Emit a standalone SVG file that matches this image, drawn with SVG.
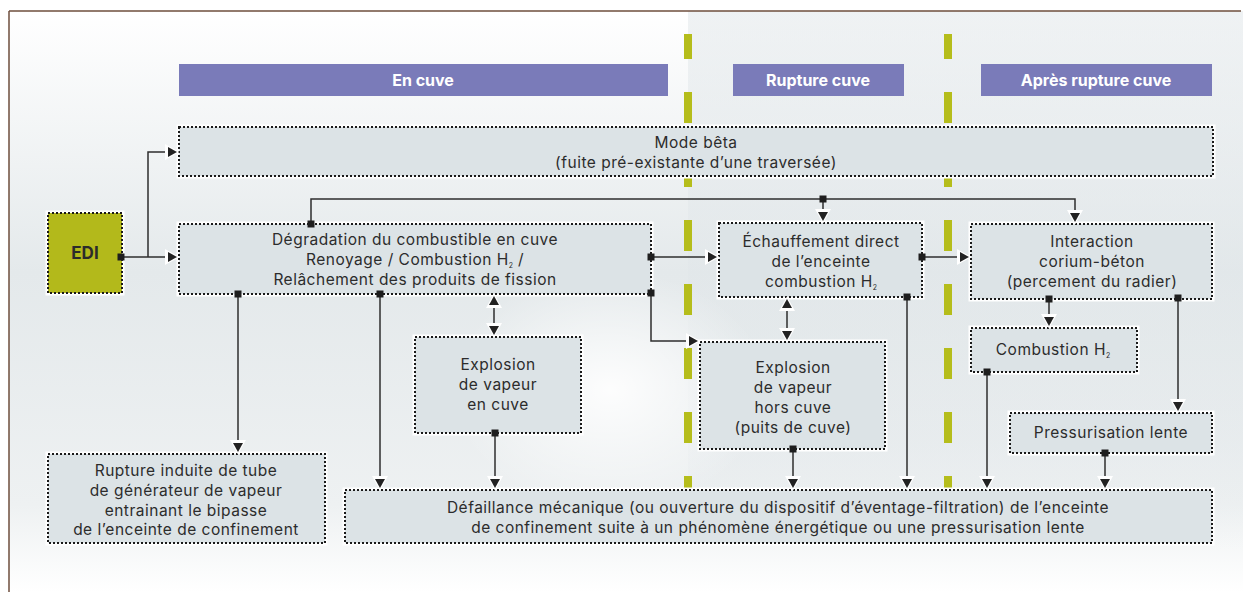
<svg xmlns="http://www.w3.org/2000/svg" width="1243" height="592" viewBox="0 0 1243 592">
<defs>
<linearGradient id="bg" x1="0" y1="0" x2="0" y2="1">
<stop offset="0" stop-color="#ffffff"/>
<stop offset="0.45" stop-color="#e4e9eb"/>
<stop offset="0.85" stop-color="#eef1f2"/>
<stop offset="1" stop-color="#ffffff"/>
</linearGradient>
<linearGradient id="band" x1="0" y1="0" x2="0" y2="1">
<stop offset="0" stop-color="#dfe5e8" stop-opacity="0.5"/>
<stop offset="0.8" stop-color="#dfe5e8" stop-opacity="0.3"/>
<stop offset="1" stop-color="#dfe5e8" stop-opacity="0"/>
</linearGradient>
<radialGradient id="hl" cx="0.5" cy="0.5" r="0.5">
<stop offset="0" stop-color="#ffffff" stop-opacity="0.9"/>
<stop offset="1" stop-color="#ffffff" stop-opacity="0"/>
</radialGradient>
<marker id="arr" markerUnits="userSpaceOnUse" viewBox="-13 -9 16 18" refX="0" refY="0" markerWidth="16" markerHeight="18" orient="auto-start-reverse">
<path d="M-12,-8 L2.5,0 L-12,8 Z" fill="#ffffff"/>
<path d="M-9,-5 L0,0 L-9,5 Z" fill="#222222"/>
</marker>
<marker id="sq" markerUnits="userSpaceOnUse" viewBox="-4 -4 8 8" refX="0" refY="0" markerWidth="8" markerHeight="8" orient="0">
<rect x="-3.5" y="-3.5" width="7" height="7" fill="#1e1e1e"/>
</marker>
</defs>
<style>
.box{fill:#dce3e6;stroke:#1a1a1a;stroke-width:2;stroke-dasharray:2 2}
.halo{fill:none;stroke:#ffffff;stroke-width:5}
.t{font-family:Inter,"Open Sans","Liberation Sans",sans-serif;font-size:15.5px;letter-spacing:0.5px;fill:#2c2c2c;text-anchor:middle}
.h{font-family:Inter,"Open Sans","Liberation Sans",sans-serif;font-size:16px;font-weight:bold;fill:#ffffff;text-anchor:middle}
.sub{font-size:7px;letter-spacing:0}
.hdr{fill:#7a7bb9}
.dash{fill:#b5bd1b}
.c{fill:none;stroke:#2e2e2e;stroke-width:1.5}
.s{marker-start:url(#sq)}
.e{marker-end:url(#arr)}
.b{marker-start:url(#arr);marker-end:url(#arr)}
</style>
<rect x="0" y="0" width="1243" height="592" fill="#ffffff"/>
<rect x="9" y="11" width="1234" height="581" fill="url(#bg)"/>
<rect x="688" y="11" width="555" height="540" fill="url(#band)"/>
<ellipse cx="610" cy="390" rx="160" ry="120" fill="url(#hl)"/>
<line x1="9" y1="11" x2="1241" y2="11" stroke="#6e4e3c" stroke-width="1.5"/>
<line x1="9" y1="11" x2="9" y2="592" stroke="#6e4e3c" stroke-width="1.5"/>

<g id="headers">
<rect class="hdr" x="179" y="64" width="489" height="32"/>
<text class="h" x="423" y="86">En cuve</text>
<rect class="hdr" x="733" y="64" width="171" height="32"/>
<text class="h" x="818" y="86">Rupture cuve</text>
<rect class="hdr" x="981" y="64" width="231" height="32"/>
<text class="h" x="1096" y="86">Après rupture cuve</text>
</g>

<g id="separators">
<rect class="dash" x="684" y="34" width="8" height="25"/>
<rect class="dash" x="684" y="92" width="8" height="31"/>
<rect class="dash" x="684" y="156" width="8" height="31"/>
<rect class="dash" x="684" y="220" width="8" height="31"/>
<rect class="dash" x="684" y="284" width="8" height="31"/>
<rect class="dash" x="684" y="348" width="8" height="31"/>
<rect class="dash" x="684" y="412" width="8" height="31"/>
<rect class="dash" x="684" y="476" width="8" height="31"/>
<rect class="dash" x="944" y="34" width="8" height="25"/>
<rect class="dash" x="944" y="92" width="8" height="31"/>
<rect class="dash" x="944" y="156" width="8" height="31"/>
<rect class="dash" x="944" y="220" width="8" height="31"/>
<rect class="dash" x="944" y="284" width="8" height="31"/>
<rect class="dash" x="944" y="348" width="8" height="31"/>
<rect class="dash" x="944" y="412" width="8" height="31"/>
<rect class="dash" x="944" y="476" width="8" height="31"/>
</g>

<g id="mode-beta">
<rect class="halo" x="179" y="127" width="1034" height="49"/>
<rect class="box" x="179" y="127" width="1034" height="49"/>
<text class="t" x="696" y="148">Mode bêta</text>
<text class="t" x="696" y="168">(fuite pré-existante d’une traversée)</text>
</g>

<g id="edi">
<rect class="halo" x="48" y="213" width="74" height="80"/>
<rect x="48" y="213" width="74" height="80" fill="#b3b91b" stroke="#1a1a1a" stroke-width="2" stroke-dasharray="2 2"/>
<text x="85" y="259" font-family="Inter,'Open Sans','Liberation Sans',sans-serif" font-size="17" font-weight="bold" fill="#2b2b2b" text-anchor="middle">EDI</text>
</g>

<g id="degradation">
<rect class="halo" x="179" y="224" width="472" height="70"/>
<rect class="box" x="179" y="224" width="472" height="70"/>
<text class="t" x="415" y="245">Dégradation du combustible en cuve</text>
<text class="t" x="415" y="265">Renoyage / Combustion H<tspan class="sub" dy="3">2</tspan><tspan dy="-3"> /</tspan></text>
<text class="t" x="415" y="285">Relâchement des produits de fission</text>
</g>

<g id="echauffement">
<rect class="halo" x="719" y="223" width="203" height="74"/>
<rect class="box" x="719" y="223" width="203" height="74"/>
<text class="t" x="821" y="247">Échauffement direct</text>
<text class="t" x="821" y="267">de l’enceinte</text>
<text class="t" x="821" y="287">combustion H<tspan class="sub" dy="3">2</tspan></text>
</g>

<g id="interaction">
<rect class="halo" x="971" y="224" width="241" height="75"/>
<rect class="box" x="971" y="224" width="241" height="75"/>
<text class="t" x="1092" y="247">Interaction</text>
<text class="t" x="1092" y="267">corium-béton</text>
<text class="t" x="1092" y="287">(percement du radier)</text>
</g>

<g id="explosion-en-cuve">
<rect class="halo" x="415" y="337" width="166" height="96"/>
<rect class="box" x="415" y="337" width="166" height="96"/>
<text class="t" x="498" y="370">Explosion</text>
<text class="t" x="498" y="390">de vapeur</text>
<text class="t" x="498" y="410">en cuve</text>
</g>

<g id="explosion-hors-cuve">
<rect class="halo" x="700" y="342" width="185" height="107"/>
<rect class="box" x="700" y="342" width="185" height="107"/>
<text class="t" x="793" y="373">Explosion</text>
<text class="t" x="793" y="393">de vapeur</text>
<text class="t" x="793" y="413">hors cuve</text>
<text class="t" x="793" y="433">(puits de cuve)</text>
</g>

<g id="combustion-h2">
<rect class="halo" x="971" y="328" width="166" height="44"/>
<rect class="box" x="971" y="328" width="166" height="44"/>
<text class="t" x="1053" y="355">Combustion H<tspan class="sub" dy="3">2</tspan></text>
</g>

<g id="pressurisation">
<rect class="halo" x="1010" y="413" width="202" height="40"/>
<rect class="box" x="1010" y="413" width="202" height="40"/>
<text class="t" x="1111" y="438">Pressurisation lente</text>
</g>

<g id="rupture-induite">
<rect class="halo" x="48" y="454" width="277" height="89"/>
<rect class="box" x="48" y="454" width="277" height="89"/>
<text class="t" x="186" y="476">Rupture induite de tube</text>
<text class="t" x="186" y="496">de générateur de vapeur</text>
<text class="t" x="186" y="515.5">entrainant le bipasse</text>
<text class="t" x="186" y="535">de l’enceinte de confinement</text>
</g>

<g id="defaillance">
<rect class="halo" x="345" y="490" width="867" height="53"/>
<rect class="box" x="345" y="490" width="867" height="53"/>
<text class="t" x="778" y="513">Défaillance mécanique (ou ouverture du dispositif d’éventage-filtration) de l’enceinte</text>
<text class="t" x="778" y="533">de confinement suite à un phénomène énergétique ou une pressurisation lente</text>
</g>

<g id="connectors">
<path class="c s e" d="M121 257 H177"/>
<path class="c e" d="M148 257 V152 H177"/>
<path class="c s e" d="M311 224 V199 H1075 V222"/>
<path class="c s e" d="M823 199 V221"/>
<path class="c s e" d="M651 257 H717"/>
<path class="c s e" d="M651 293 V341 H698"/>
<path class="c s e" d="M922 257 H969"/>
<path class="c b" d="M494 296 V335"/>
<path class="c b" d="M787 299 V340"/>
<path class="c s e" d="M238 294 V452"/>
<path class="c s e" d="M380 294 V488"/>
<path class="c s e" d="M495 433 V488"/>
<path class="c s e" d="M793 449 V488"/>
<path class="c s e" d="M907 297 V488"/>
<path class="c s e" d="M1049 299 V326"/>
<path class="c s e" d="M1178 298 V411"/>
<path class="c s e" d="M987 372 V488"/>
<path class="c s e" d="M1105 453 V488"/>
</g>
</svg>
